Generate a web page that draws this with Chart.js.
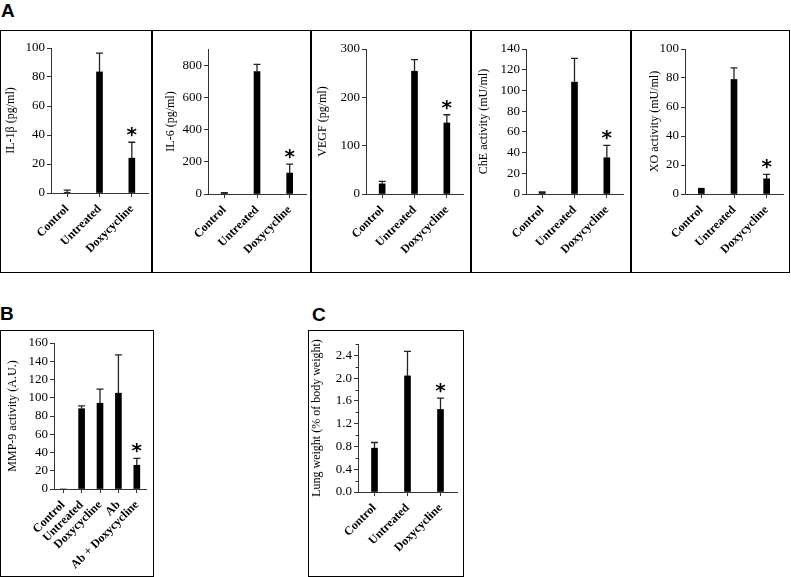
<!DOCTYPE html>
<html><head><meta charset="utf-8">
<script src="https://cdn.jsdelivr.net/npm/chart.js@4.4.1/dist/chart.umd.min.js"></script>
<style>
html,body{margin:0;padding:0;background:#fff;}
#wrap{position:relative;width:791px;height:577px;overflow:hidden;background:#fff;}
.box{position:absolute;border:1.5px solid #000;box-sizing:border-box;}
.vline{position:absolute;width:1.5px;background:#000;top:30px;height:243px;}
.letter{position:absolute;font:bold 19px "Liberation Sans",Arial,sans-serif;line-height:1;color:#000;}
canvas{position:absolute;}
</style></head><body>
<div id="wrap">
  <div class="letter" style="left:1px;top:1px">A</div>
  <div class="box" style="left:0;top:30px;width:790px;height:243px"></div>
  <div class="vline" style="left:151px"></div>
  <div class="vline" style="left:310px"></div>
  <div class="vline" style="left:470px"></div>
  <div class="vline" style="left:630px"></div>
  <div class="letter" style="left:0px;top:304px">B</div>
  <div class="box" style="left:0;top:330px;width:154px;height:247px"></div>
  <div class="letter" style="left:312px;top:305px">C</div>
  <div class="box" style="left:308px;top:330px;width:156px;height:247px"></div>
</div>
<script>
// ---------- data ----------
const catsA = ['Control', 'Untreated', 'Doxycycline'];
const catsB = ['Control', 'Untreated', 'Doxycycline', 'Ab', 'Ab + Doxycycline'];

const il1bMean = [0.5, 83.5, 24];
const il1bErr  = [1.5, 13, 11];
const il1bStar = [false, false, true];
const il1bTicks = [0, 20, 40, 60, 80, 100];

const il6Mean = [4, 760, 130];
const il6Err  = [4, 45, 55];
const il6Star = [false, false, true];
const il6Ticks = [0, 200, 400, 600, 800];

const vegfMean = [21, 254, 147];
const vegfErr  = [5, 24, 17];
const vegfStar = [false, false, true];
const vegfTicks = [0, 100, 200, 300];

const cheMean = [1.5, 108, 35];
const cheErr  = [0.5, 23, 12];
const cheStar = [false, false, true];
const cheTicks = [0, 20, 40, 60, 80, 100, 120, 140];

const xoMean = [4, 79, 10.5];
const xoErr  = [0, 8, 3];
const xoStar = [false, false, true];
const xoTicks = [0, 20, 40, 60, 80, 100];

const mmpMean = [0, 88, 94, 105, 26];
const mmpErr  = [0, 3, 15.5, 42, 7.5];
const mmpStar = [false, false, false, false, true];
const mmpTicks = [0, 20, 40, 60, 80, 100, 120, 140, 160];

const lungMean = [0.77, 2.04, 1.45];
const lungErr  = [0.10, 0.43, 0.20];
const lungStar = [false, false, true];
const lungTicks = [0, 0.4, 0.8, 1.2, 1.6, 2.0, 2.4];
const lungMinorTicks = [0.2, 0.6, 1.0, 1.4, 1.8, 2.2, 2.6];

// ---------- drawing ----------
const SERIF = '"Liberation Serif", "Times New Roman", serif';
const AXIS = '#333';

const errPlugin = {
  id: 'errbars',
  afterDatasetsDraw(chart) {
    const ctx = chart.ctx, ys = chart.scales.y;
    chart.data.datasets.forEach((ds, di) => {
      const meta = chart.getDatasetMeta(di);
      meta.data.forEach((bar, i) => {
        const v = ds.data[i], e = ds.errs[i];
        const yTop = ys.getPixelForValue(v + e);
        const yBar = ys.getPixelForValue(v);
        ctx.save();
        if (e > 0) {
          ctx.strokeStyle = '#222';
          ctx.lineWidth = 1.3;
          ctx.beginPath();
          ctx.moveTo(bar.x, yBar);
          ctx.lineTo(bar.x, yTop);
          ctx.moveTo(bar.x - 3.5, yTop);
          ctx.lineTo(bar.x + 3.5, yTop);
          ctx.stroke();
        }
        if (ds.stars[i]) {
          ctx.fillStyle = '#000';
          ctx.font = 'bold 20px "DejaVu Sans", sans-serif';
          ctx.textAlign = 'center';
          ctx.textBaseline = 'alphabetic';
          const m = ctx.measureText('*');
          const bottom = yTop - 5;
          ctx.fillText('*', bar.x, bottom - m.actualBoundingBoxDescent);
        }
        ctx.restore();
      });
    });
    const minor = chart.options.minorTicks;
    if (minor) {
      ctx.save();
      ctx.strokeStyle = AXIS;
      ctx.lineWidth = 1;
      const x0 = chart.chartArea.left;
      minor.forEach(v => {
        const y = Math.round(ys.getPixelForValue(v)) + 0.5;
        ctx.beginPath();
        ctx.moveTo(x0 - 2.5, y);
        ctx.lineTo(x0, y);
        ctx.stroke();
      });
      ctx.restore();
    }
  }
};

function makeChart(c) {
  const cv = document.createElement('canvas');
  cv.width = c.W; cv.height = c.H;
  cv.style.left = c.L + 'px'; cv.style.top = c.T + 'px';
  cv.style.width = c.W + 'px'; cv.style.height = c.H + 'px';
  document.getElementById('wrap').appendChild(cv);
  return new Chart(cv.getContext('2d'), {
    type: 'bar',
    data: {
      labels: c.labels,
      datasets: [{ data: c.values, errs: c.errs, stars: c.stars,
                   backgroundColor: '#000', borderWidth: 0, barThickness: 6 }]
    },
    options: {
      responsive: false, animation: false, devicePixelRatio: 1,
      minorTicks: c.minor || null,
      layout: { padding: { left: 0, top: c.topY - c.T, right: c.L + c.W - c.rightX, bottom: 0 } },
      plugins: { legend: { display: false }, tooltip: { enabled: false } },
      scales: {
        x: {
          offset: true,
          grid: { offset: false, drawOnChartArea: false, tickLength: 4, color: AXIS, tickColor: AXIS },
          border: { color: AXIS, width: 1 },
          ticks: { minRotation: 45, maxRotation: 45, autoSkip: false, padding: 5, color: '#000',
                   font: { family: SERIF, size: 12, weight: 'bold' } },
          afterFit(s) { s.height = c.T + c.H - c.axisY; }
        },
        y: {
          min: 0, max: c.max,
          afterBuildTicks(s) { s.ticks = c.ticks.map(v => ({ value: v })); },
          grid: { drawOnChartArea: false, tickLength: 4, color: AXIS, tickColor: AXIS },
          border: { color: AXIS, width: 1 },
          ticks: { autoSkip: false, padding: 2, color: '#000', font: { family: SERIF, size: 13 },
                   callback: c.fmt || (v => String(v)) },
          title: { display: true, text: c.title, color: '#000',
                   font: { family: SERIF, size: 12 }, padding: { top: c.tpad, bottom: 0 } },
          afterFit(s) { s.width = c.axisX - c.L; }
        }
      }
    },
    plugins: [errPlugin]
  });
}

makeChart({ L: 2, T: 32, W: 149, H: 239, axisX: 51, axisY: 193, topY: 48, rightX: 148,
  labels: catsA, values: il1bMean, errs: il1bErr, stars: il1bStar, max: 100, ticks: il1bTicks,
  title: 'IL-1β (pg/ml)', tpad: 2 });
makeChart({ L: 153, T: 32, W: 157, H: 239, axisX: 208, axisY: 194, topY: 49, rightX: 306,
  labels: catsA, values: il6Mean, errs: il6Err, stars: il6Star, max: 900, ticks: il6Ticks,
  title: 'IL-6 (pg/ml)', tpad: 11 });
makeChart({ L: 312, T: 32, W: 158, H: 239, axisX: 366, axisY: 194, topY: 49, rightX: 463,
  labels: catsA, values: vegfMean, errs: vegfErr, stars: vegfStar, max: 300, ticks: vegfTicks,
  title: 'VEGF (pg/ml)', tpad: 4 });
makeChart({ L: 472, T: 32, W: 158, H: 239, axisX: 526, axisY: 194, topY: 49, rightX: 623,
  labels: catsA, values: cheMean, errs: cheErr, stars: cheStar, max: 140, ticks: cheTicks,
  title: 'ChE activity (mU/ml)', tpad: 5 });
makeChart({ L: 632, T: 32, W: 156, H: 239, axisX: 685, axisY: 194, topY: 49, rightX: 783,
  labels: catsA, values: xoMean, errs: xoErr, stars: xoStar, max: 100, ticks: xoTicks,
  title: 'XO activity (mU/ml)', tpad: 16 });
makeChart({ L: 2, T: 332, W: 150, H: 243, axisX: 54, axisY: 489, topY: 343, rightX: 152,
  labels: catsB, values: mmpMean, errs: mmpErr, stars: mmpStar, max: 160, ticks: mmpTicks,
  title: 'MMP-9 activity (A.U.)', tpad: 4 });
makeChart({ L: 310, T: 332, W: 152, H: 243, axisX: 358, axisY: 492, topY: 344, rightX: 457,
  labels: catsA, values: lungMean, errs: lungErr, stars: lungStar, max: 2.6, ticks: lungTicks,
  minor: lungMinorTicks, fmt: v => v.toFixed(1),
  title: 'Lung weight (% of body weight)', tpad: 0 });
</script>
</body></html>
